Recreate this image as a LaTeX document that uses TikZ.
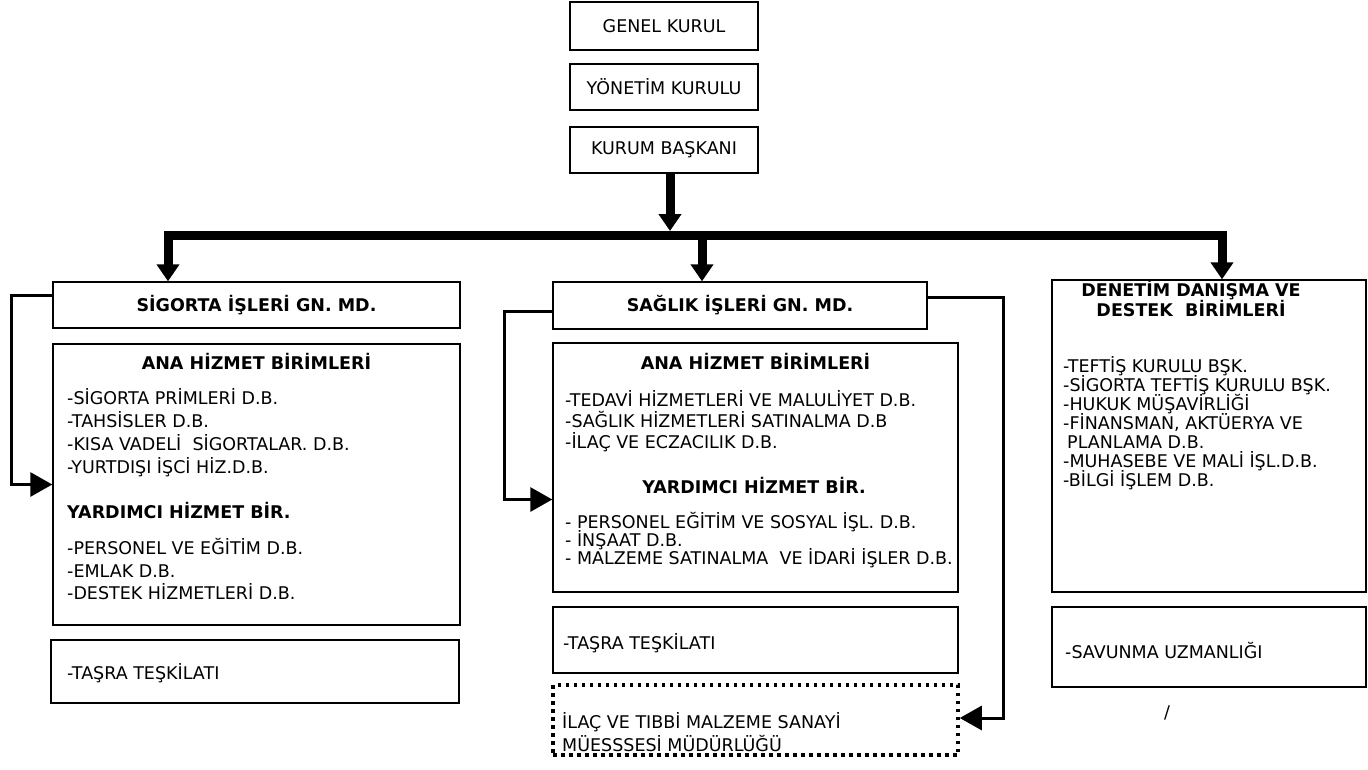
\documentclass[tikz,border=0pt]{standalone}
\usepackage{fontspec}
\setmainfont{DejaVu Sans}
\usetikzlibrary{arrows.meta}
\lineskiplimit=-30pt

\begin{document}
\begin{tikzpicture}[x=1pt, y=-1pt, font=\fontsize{17.5}{20}\selectfont]
        \tikzstyle{box}=[draw, line width=1.4pt, inner sep=0pt]
        \tikzstyle{dotbox}=[draw, line width=3.5pt, dash pattern=on 3.5pt off 4.5pt, inner sep=0pt]
        \tikzstyle{head}=[font=\fontsize{17.5}{20}\selectfont\bfseries, align=center, anchor=base, inner sep=0pt]
        \tikzstyle{trunk}=[line width=9pt, -{Triangle[length=17pt,width=22pt]}]
        \tikzstyle{link}=[line width=3pt, -{Triangle[length=22pt,width=24pt]}]
        \tikzset{list/.style={font=\fontsize{17.5}{#1}\selectfont, align=left, anchor=base west, inner sep=0pt}}
        \useasboundingbox (0,0) rectangle (1368,769);

        % top of the chart
        \node[box, minimum width=188pt, minimum height=48pt] (genel) at (664,26) {GENEL KURUL};
        \node[box, minimum width=188pt, minimum height=46pt] (yonetim) at (664,87) {YÖNETİM KURULU};
        \node[box, minimum width=188pt, minimum height=46pt] (baskan) at (664,150) {KURUM BAŞKANI};

        % three columns
        \node[box, minimum width=407pt, minimum height=46pt, font=\fontsize{17.5}{20}\selectfont\bfseries] (sig) at (256.5,305) {SİGORTA İŞLERİ GN. MD.};
        \node[box, minimum width=407pt, minimum height=281pt] (ana1) at (256.5,484.5) {};
        \node[box, minimum width=408pt, minimum height=63pt] (tasra1) at (255,671.5) {};

        \node[box, minimum width=374pt, minimum height=47pt, font=\fontsize{17.5}{20}\selectfont\bfseries] (sag) at (740,305.5) {SAĞLIK İŞLERİ GN. MD.};
        \node[box, minimum width=405pt, minimum height=249pt] (ana2) at (755.5,467.5) {};
        \node[box, minimum width=405pt, minimum height=66pt] (tasra2) at (755.5,640) {};
        \node[dotbox, minimum width=405pt, minimum height=70pt] (ilac) at (755.5,720) {};

        \node[box, minimum width=314pt, minimum height=312pt] (den) at (1209,436) {};
        \node[box, minimum width=314pt, minimum height=80pt] (sav) at (1209,647) {};

        % texts of the left column (base = last line)
        \node[head] (ana1h) at (256.5,369.5) {ANA HİZMET BİRİMLERİ};
        \node[list=23pt] (ana1l) at (67,473.5) {-SİGORTA PRİMLERİ D.B.\\-TAHSİSLER D.B.\\-KISA VADELİ\ \ SİGORTALAR. D.B.\\-YURTDIŞI İŞCİ HİZ.D.B.};
        \node[head, anchor=base west] (yard1h) at (67,518.5) {YARDIMCI HİZMET BİR.};
        \node[list=22.5pt] (yard1l) at (67,599.5) {-PERSONEL VE EĞİTİM D.B.\\-EMLAK D.B.\\-DESTEK HİZMETLERİ D.B.};
        \node[list=20pt] (tasra1t) at (67,679.5) {-TAŞRA TEŞKİLATI};

        % texts of the middle column
        \node[head] (ana2h) at (755.5,369.5) {ANA HİZMET BİRİMLERİ};
        \node[list=21pt] (ana2l) at (565,448.5) {-TEDAVİ HİZMETLERİ VE MALULİYET D.B.\\-SAĞLIK HİZMETLERİ SATINALMA D.B\\-İLAÇ VE ECZACILIK D.B.};
        \node[head] (yard2h) at (754,493.5) {YARDIMCI HİZMET BİR.};
        \node[list=18pt] (yard2l) at (565,564.5) {- PERSONEL EĞİTİM VE SOSYAL İŞL. D.B.\\- İNŞAAT D.B.\\- MALZEME SATINALMA\ \ VE İDARİ İŞLER D.B.};
        \node[list=20pt] (tasra2t) at (563,649.5) {-TAŞRA TEŞKİLATI};
        \node[list=23pt] (ilact) at (562,751.5) {İLAÇ VE TIBBİ MALZEME SANAYİ\\MÜESSSESİ MÜDÜRLÜĞÜ};

        % texts of the right column
        \node[head] (denh) at (1191,316.5) {DENETİM DANIŞMA VE\\DESTEK\ \ BİRİMLERİ};
        \node[list=19pt] (denl) at (1063,486.5) {-TEFTİŞ KURULU BŞK.\\-SİGORTA TEFTİŞ KURULU BŞK.\\-HUKUK MÜŞAVİRLİĞİ\\-FİNANSMAN, AKTÜERYA VE\\\hspace{4pt}PLANLAMA D.B.\\-MUHASEBE VE MALİ İŞL.D.B.\\-BİLGİ İŞLEM D.B.};
        \node[list=20pt] (savt) at (1065,658.5) {-SAVUNMA UZMANLIĞI};
        \node[inner sep=0pt] (mark) at (1167,713) {/};

        % trunk lines
        \coordinate (busK) at (670,231);
        \coordinate (busL) at (168,235);
        \coordinate (busM) at (702,235);
        \coordinate (busR) at (1222,235);
        \draw[trunk] ([xshift=6pt]baskan.south) -- (busK);
        \draw[line width=9pt, line cap=rect] (busL) -- (busR);
        \draw[trunk] (busL) -- (busL |- sig.north);
        \draw[trunk] (busM) -- (busM |- sag.north);
        \draw[trunk] (busR) -- (busR |- den.north);

        % side links
        \draw[link] ([yshift=10pt]sig.west) -- ++(-41,0) |- (ana1.west);
        \draw[link] ([yshift=-6pt]sag.west) -- ++(-48,0) |- ([yshift=-32pt]ana2.west);
        \draw[link] ([yshift=8pt]sag.east) -- ++(76,0) |- ([yshift=2pt]ilac.east);
    \end{tikzpicture}
\end{document}
